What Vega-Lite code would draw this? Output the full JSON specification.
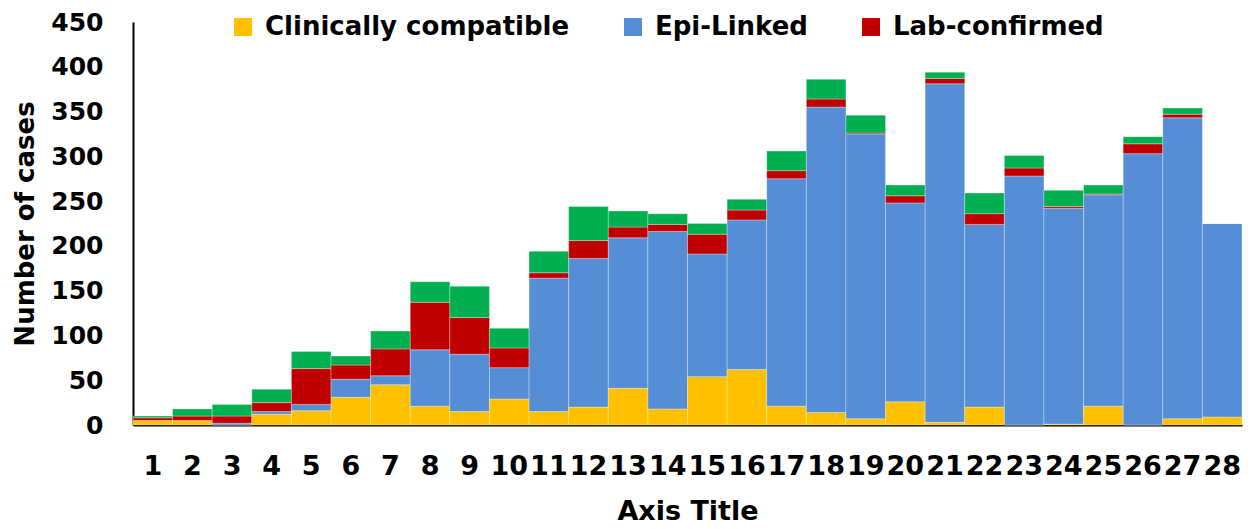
{
  "$schema": "https://vega.github.io/schema/vega-lite/v6.json",
  "width": 1109,
  "height": 403,
  "autosize": {"type": "none"},
  "padding": {"left": 133, "top": 22, "right": 12, "bottom": 104},
  "background": "white",
  "config": {
    "view": {"stroke": null},
    "font": "DejaVu Sans"
  },
  "data": {
    "values": [
      {"week": 1, "type": "Clinically compatible", "ord": 1, "cases": 5},
      {"week": 1, "type": "Epi-Linked", "ord": 2, "cases": 0},
      {"week": 1, "type": "Lab-confirmed", "ord": 3, "cases": 3},
      {"week": 1, "type": "Other", "ord": 4, "cases": 2},
      {"week": 2, "type": "Clinically compatible", "ord": 1, "cases": 5},
      {"week": 2, "type": "Epi-Linked", "ord": 2, "cases": 0},
      {"week": 2, "type": "Lab-confirmed", "ord": 3, "cases": 5},
      {"week": 2, "type": "Other", "ord": 4, "cases": 8},
      {"week": 3, "type": "Clinically compatible", "ord": 1, "cases": 0},
      {"week": 3, "type": "Epi-Linked", "ord": 2, "cases": 2},
      {"week": 3, "type": "Lab-confirmed", "ord": 3, "cases": 8},
      {"week": 3, "type": "Other", "ord": 4, "cases": 13},
      {"week": 4, "type": "Clinically compatible", "ord": 1, "cases": 12},
      {"week": 4, "type": "Epi-Linked", "ord": 2, "cases": 3},
      {"week": 4, "type": "Lab-confirmed", "ord": 3, "cases": 10},
      {"week": 4, "type": "Other", "ord": 4, "cases": 15},
      {"week": 5, "type": "Clinically compatible", "ord": 1, "cases": 16},
      {"week": 5, "type": "Epi-Linked", "ord": 2, "cases": 7},
      {"week": 5, "type": "Lab-confirmed", "ord": 3, "cases": 40},
      {"week": 5, "type": "Other", "ord": 4, "cases": 19},
      {"week": 6, "type": "Clinically compatible", "ord": 1, "cases": 31},
      {"week": 6, "type": "Epi-Linked", "ord": 2, "cases": 20},
      {"week": 6, "type": "Lab-confirmed", "ord": 3, "cases": 16},
      {"week": 6, "type": "Other", "ord": 4, "cases": 10},
      {"week": 7, "type": "Clinically compatible", "ord": 1, "cases": 45},
      {"week": 7, "type": "Epi-Linked", "ord": 2, "cases": 10},
      {"week": 7, "type": "Lab-confirmed", "ord": 3, "cases": 30},
      {"week": 7, "type": "Other", "ord": 4, "cases": 20},
      {"week": 8, "type": "Clinically compatible", "ord": 1, "cases": 21},
      {"week": 8, "type": "Epi-Linked", "ord": 2, "cases": 63},
      {"week": 8, "type": "Lab-confirmed", "ord": 3, "cases": 53},
      {"week": 8, "type": "Other", "ord": 4, "cases": 23},
      {"week": 9, "type": "Clinically compatible", "ord": 1, "cases": 15},
      {"week": 9, "type": "Epi-Linked", "ord": 2, "cases": 64},
      {"week": 9, "type": "Lab-confirmed", "ord": 3, "cases": 41},
      {"week": 9, "type": "Other", "ord": 4, "cases": 35},
      {"week": 10, "type": "Clinically compatible", "ord": 1, "cases": 29},
      {"week": 10, "type": "Epi-Linked", "ord": 2, "cases": 35},
      {"week": 10, "type": "Lab-confirmed", "ord": 3, "cases": 22},
      {"week": 10, "type": "Other", "ord": 4, "cases": 22},
      {"week": 11, "type": "Clinically compatible", "ord": 1, "cases": 15},
      {"week": 11, "type": "Epi-Linked", "ord": 2, "cases": 149},
      {"week": 11, "type": "Lab-confirmed", "ord": 3, "cases": 6},
      {"week": 11, "type": "Other", "ord": 4, "cases": 24},
      {"week": 12, "type": "Clinically compatible", "ord": 1, "cases": 20},
      {"week": 12, "type": "Epi-Linked", "ord": 2, "cases": 166},
      {"week": 12, "type": "Lab-confirmed", "ord": 3, "cases": 20},
      {"week": 12, "type": "Other", "ord": 4, "cases": 38},
      {"week": 13, "type": "Clinically compatible", "ord": 1, "cases": 41},
      {"week": 13, "type": "Epi-Linked", "ord": 2, "cases": 168},
      {"week": 13, "type": "Lab-confirmed", "ord": 3, "cases": 12},
      {"week": 13, "type": "Other", "ord": 4, "cases": 18},
      {"week": 14, "type": "Clinically compatible", "ord": 1, "cases": 18},
      {"week": 14, "type": "Epi-Linked", "ord": 2, "cases": 198},
      {"week": 14, "type": "Lab-confirmed", "ord": 3, "cases": 8},
      {"week": 14, "type": "Other", "ord": 4, "cases": 12},
      {"week": 15, "type": "Clinically compatible", "ord": 1, "cases": 54},
      {"week": 15, "type": "Epi-Linked", "ord": 2, "cases": 137},
      {"week": 15, "type": "Lab-confirmed", "ord": 3, "cases": 22},
      {"week": 15, "type": "Other", "ord": 4, "cases": 12},
      {"week": 16, "type": "Clinically compatible", "ord": 1, "cases": 62},
      {"week": 16, "type": "Epi-Linked", "ord": 2, "cases": 167},
      {"week": 16, "type": "Lab-confirmed", "ord": 3, "cases": 11},
      {"week": 16, "type": "Other", "ord": 4, "cases": 12},
      {"week": 17, "type": "Clinically compatible", "ord": 1, "cases": 21},
      {"week": 17, "type": "Epi-Linked", "ord": 2, "cases": 254},
      {"week": 17, "type": "Lab-confirmed", "ord": 3, "cases": 9},
      {"week": 17, "type": "Other", "ord": 4, "cases": 22},
      {"week": 18, "type": "Clinically compatible", "ord": 1, "cases": 14},
      {"week": 18, "type": "Epi-Linked", "ord": 2, "cases": 341},
      {"week": 18, "type": "Lab-confirmed", "ord": 3, "cases": 9},
      {"week": 18, "type": "Other", "ord": 4, "cases": 22},
      {"week": 19, "type": "Clinically compatible", "ord": 1, "cases": 7},
      {"week": 19, "type": "Epi-Linked", "ord": 2, "cases": 318},
      {"week": 19, "type": "Lab-confirmed", "ord": 3, "cases": 1},
      {"week": 19, "type": "Other", "ord": 4, "cases": 20},
      {"week": 20, "type": "Clinically compatible", "ord": 1, "cases": 26},
      {"week": 20, "type": "Epi-Linked", "ord": 2, "cases": 222},
      {"week": 20, "type": "Lab-confirmed", "ord": 3, "cases": 8},
      {"week": 20, "type": "Other", "ord": 4, "cases": 12},
      {"week": 21, "type": "Clinically compatible", "ord": 1, "cases": 3},
      {"week": 21, "type": "Epi-Linked", "ord": 2, "cases": 378},
      {"week": 21, "type": "Lab-confirmed", "ord": 3, "cases": 6},
      {"week": 21, "type": "Other", "ord": 4, "cases": 7},
      {"week": 22, "type": "Clinically compatible", "ord": 1, "cases": 20},
      {"week": 22, "type": "Epi-Linked", "ord": 2, "cases": 204},
      {"week": 22, "type": "Lab-confirmed", "ord": 3, "cases": 12},
      {"week": 22, "type": "Other", "ord": 4, "cases": 23},
      {"week": 23, "type": "Clinically compatible", "ord": 1, "cases": 0},
      {"week": 23, "type": "Epi-Linked", "ord": 2, "cases": 278},
      {"week": 23, "type": "Lab-confirmed", "ord": 3, "cases": 9},
      {"week": 23, "type": "Other", "ord": 4, "cases": 14},
      {"week": 24, "type": "Clinically compatible", "ord": 1, "cases": 1},
      {"week": 24, "type": "Epi-Linked", "ord": 2, "cases": 241},
      {"week": 24, "type": "Lab-confirmed", "ord": 3, "cases": 2},
      {"week": 24, "type": "Other", "ord": 4, "cases": 18},
      {"week": 25, "type": "Clinically compatible", "ord": 1, "cases": 21},
      {"week": 25, "type": "Epi-Linked", "ord": 2, "cases": 236},
      {"week": 25, "type": "Lab-confirmed", "ord": 3, "cases": 1},
      {"week": 25, "type": "Other", "ord": 4, "cases": 10},
      {"week": 26, "type": "Clinically compatible", "ord": 1, "cases": 0},
      {"week": 26, "type": "Epi-Linked", "ord": 2, "cases": 303},
      {"week": 26, "type": "Lab-confirmed", "ord": 3, "cases": 11},
      {"week": 26, "type": "Other", "ord": 4, "cases": 8},
      {"week": 27, "type": "Clinically compatible", "ord": 1, "cases": 7},
      {"week": 27, "type": "Epi-Linked", "ord": 2, "cases": 336},
      {"week": 27, "type": "Lab-confirmed", "ord": 3, "cases": 4},
      {"week": 27, "type": "Other", "ord": 4, "cases": 7},
      {"week": 28, "type": "Clinically compatible", "ord": 1, "cases": 9},
      {"week": 28, "type": "Epi-Linked", "ord": 2, "cases": 216},
      {"week": 28, "type": "Lab-confirmed", "ord": 3, "cases": 0},
      {"week": 28, "type": "Other", "ord": 4, "cases": 0}
    ]
  },
  "mark": {"type": "bar", "stroke": "#ffffff", "strokeWidth": 0.6, "strokeOpacity": 0.5},
  "encoding": {
    "x": {
      "field": "week",
      "type": "ordinal",
      "scale": {"paddingInner": 0, "paddingOuter": 0},
      "axis": {
        "title": "Axis Title",
        "titleFontSize": 27,
        "titleFontWeight": "bold",
        "titleColor": "#000000",
        "titlePadding": 19,
        "labelAngle": 0,
        "labelFontSize": 27,
        "labelFontWeight": "bold",
        "labelColor": "#000000",
        "labelPadding": 28,
        "labelOverlap": false,
        "labelFlush": false,
        "labelBound": false,
        "ticks": false,
        "domainColor": "#000000",
        "domainWidth": 2
      }
    },
    "y": {
      "field": "cases",
      "type": "quantitative",
      "stack": "zero",
      "scale": {"domain": [0, 450], "nice": false},
      "axis": {
        "title": "Number of cases",
        "titleFontSize": 26,
        "titleFontWeight": "bold",
        "titleColor": "#000000",
        "titlePadding": 12,
        "values": [0, 50, 100, 150, 200, 250, 300, 350, 400, 450],
        "labelFontSize": 25,
        "labelFontWeight": "bold",
        "labelColor": "#000000",
        "labelPadding": 30,
        "grid": false,
        "ticks": false,
        "domainColor": "#000000",
        "domainWidth": 2
      }
    },
    "color": {
      "field": "type",
      "type": "nominal",
      "scale": {
        "domain": ["Clinically compatible", "Epi-Linked", "Lab-confirmed", "Other"],
        "range": ["#FFC000", "#558ED5", "#C00000", "#00B050"]
      },
      "legend": {
        "values": ["Clinically compatible", "Epi-Linked", "Lab-confirmed"],
        "title": null,
        "orient": "none",
        "direction": "horizontal",
        "legendX": 97,
        "legendY": -8,
        "symbolType": "square",
        "symbolSize": 324,
        "symbolStrokeWidth": 0,
        "labelFontSize": 26,
        "labelFontWeight": "bold",
        "labelColor": "#000000",
        "labelOffset": 9,
        "columnPadding": 50,
        "labelLimit": 500
      }
    },
    "order": {"field": "ord", "type": "quantitative"}
  }
}
